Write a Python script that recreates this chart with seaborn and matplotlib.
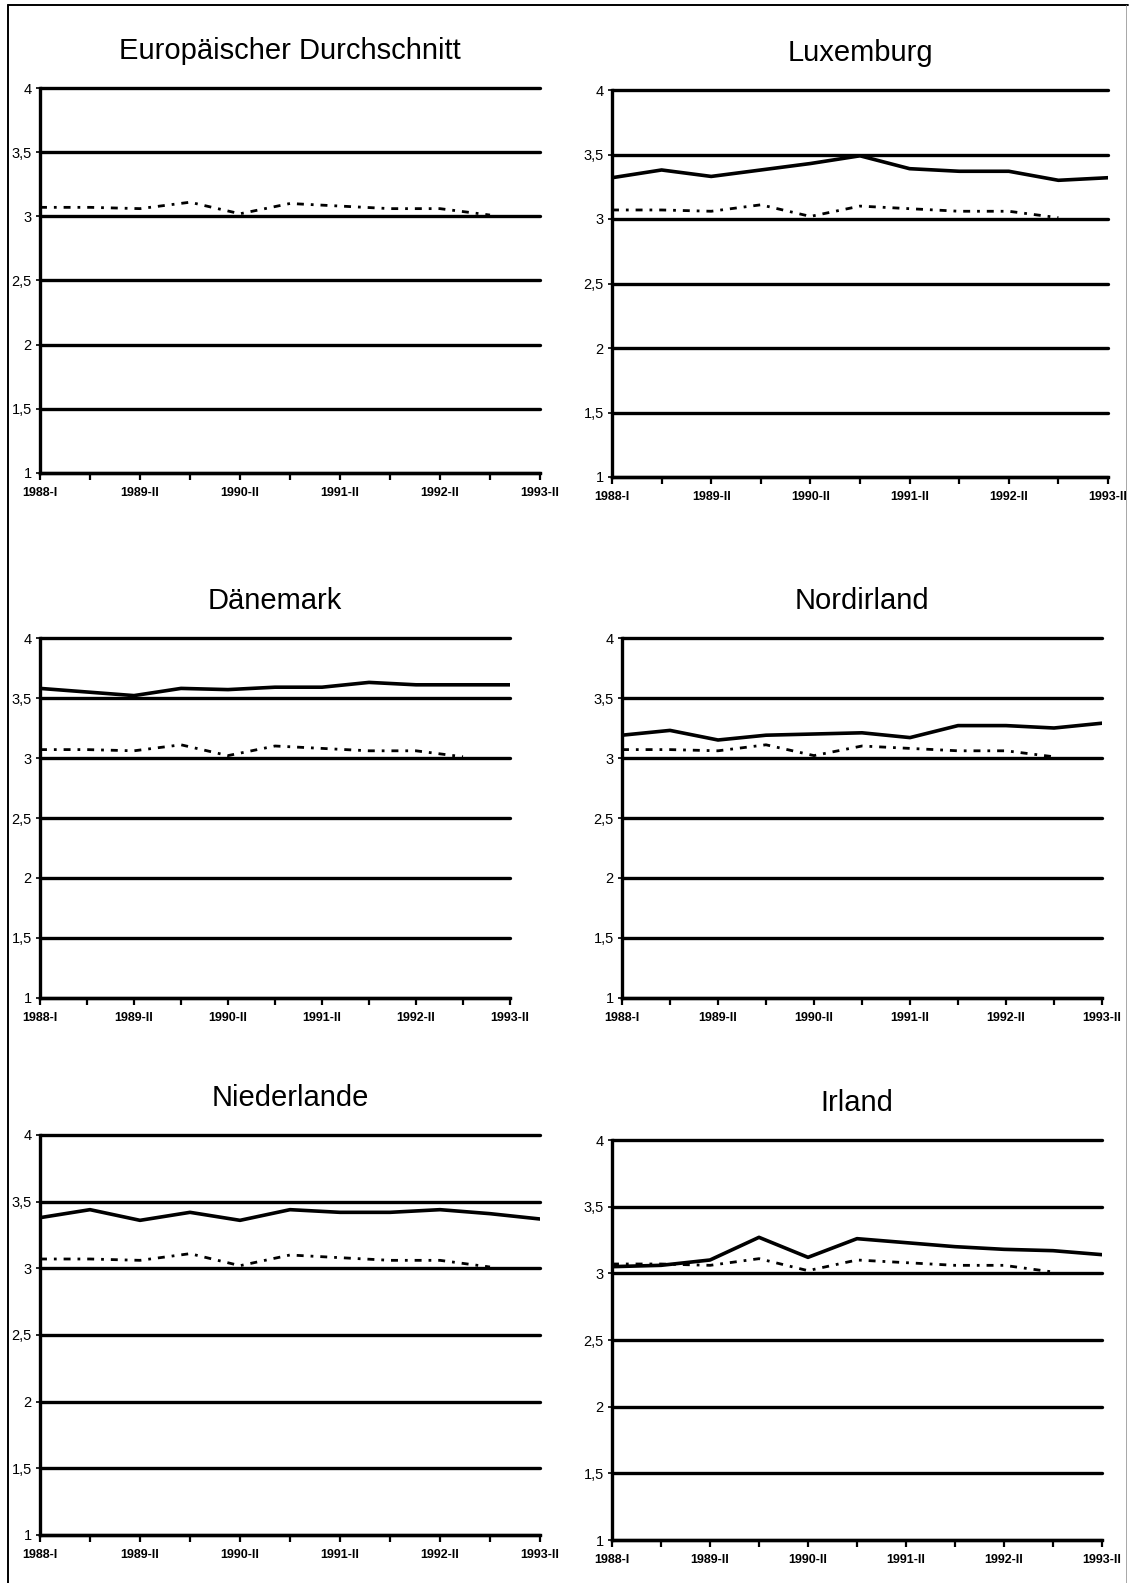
import numpy as np
import pandas as pd
import matplotlib
import matplotlib.pyplot as plt
import seaborn as sns
from matplotlib.lines import Line2D

matplotlib.use("Agg")

# Erhebungswellen (nur jede zweite beschriftet)
PERIODS = ["1988-I", "1988-II", "1989-II", "1990-I", "1990-II", "1991-I",
           "1991-II", "1992-I", "1992-II", "1993-I", "1993-II"]

# europäischer Durchschnitt (gepunktete Linie in allen Feldern)
EU_AVG = [3.07, 3.07, 3.06, 3.11, 3.02, 3.10, 3.08, 3.06, 3.06, 3.01, np.nan]

LUXEMBURG = [3.32, 3.38, 3.33, 3.38, 3.43, 3.49, 3.39, 3.37, 3.37, 3.30, 3.32]
DAENEMARK = [3.58, 3.55, 3.52, 3.58, 3.57, 3.59, 3.59, 3.63, 3.61, 3.61, 3.61]
NORDIRLAND = [3.19, 3.23, 3.15, 3.19, 3.20, 3.21, 3.17, 3.27, 3.27, 3.25, 3.29]
NIEDERLANDE = [3.38, 3.44, 3.36, 3.42, 3.36, 3.44, 3.42, 3.42, 3.44, 3.41, 3.37]
IRLAND = [3.05, 3.06, 3.10, 3.27, 3.12, 3.26, 3.23, 3.20, 3.18, 3.17, 3.14]

TITLES = ["Europäischer Durchschnitt", "Luxemburg", "Dänemark",
          "Nordirland", "Niederlande", "Irland"]
SERIES = [None, LUXEMBURG, DAENEMARK, NORDIRLAND, NIEDERLANDE, IRLAND]

Y_TICKS = [1, 1.5, 2, 2.5, 3, 3.5, 4]

W, H = 1136, 1583
# Achsenrahmen in Pixeln: x0, x1, y_oben, y_unten
BOXES = [
    (40, 540, 88, 473),
    (612, 1108, 90, 477),
    (40, 510, 638, 998),
    (622, 1102, 638, 998),
    (40, 540, 1135, 1535),
    (612, 1102, 1140, 1540),
]

sns.set_style("white")
plt.rcParams["font.family"] = ["Liberation Sans", "DejaVu Sans"]
plt.rcParams["text.color"] = "black"

fig = plt.figure(figsize=(W / 100, H / 100), dpi=100)

x = np.arange(len(PERIODS))
xlabels = [p if i % 2 == 0 else "" for i, p in enumerate(PERIODS)]
ylabels = [f"{v:g}".replace(".", ",") for v in Y_TICKS]

for title, values, (x0, x1, yt, yb) in zip(TITLES, SERIES, BOXES):
    ax = fig.add_axes([x0 / W, 1 - yb / H, (x1 - x0) / W, (yb - yt) / H])
    df = pd.DataFrame({"period": x, "eu": EU_AVG})
    sns.lineplot(data=df, x="period", y="eu", ax=ax, color="black",
                 linewidth=2.0, linestyle=(0, (2.5, 2.5, 1, 2.5)))
    if values is not None:
        df["land"] = values
        sns.lineplot(data=df, x="period", y="land", ax=ax, color="black",
                     linewidth=2.6)

    ax.set_xlim(0, len(PERIODS) - 1)
    ax.set_ylim(1, 4)
    ax.set_yticks(Y_TICKS)
    ax.set_yticklabels(ylabels)
    ax.set_xticks(x)
    ax.set_xticklabels(xlabels)
    ax.set_xlabel("")
    ax.set_ylabel("")
    ax.yaxis.grid(True, color="black", linewidth=2.4)
    ax.xaxis.grid(False)
    for gl in ax.get_ygridlines():
        gl.set_clip_on(False)

    for side in ("top", "right"):
        ax.spines[side].set_visible(False)
    for side in ("left", "bottom"):
        ax.spines[side].set_linewidth(2.4)
        ax.spines[side].set_color("black")

    ax.tick_params(axis="x", bottom=True, direction="out", length=5,
                   width=1.6, labelsize=9, pad=5, colors="black")
    ax.tick_params(axis="y", left=True, direction="out", length=3,
                   width=1.2, labelsize=10.5, pad=3, colors="black")
    for lab in ax.get_xticklabels():
        lab.set_fontweight("bold")

    ax.set_title(title, fontsize=21, pad=21, color="black")

# Rahmen um die ganze Seite
fig.add_artist(Line2D([8 / W, 1128 / W], [1 - 5 / H, 1 - 5 / H],
                      transform=fig.transFigure, color="black", lw=1.4))
fig.add_artist(Line2D([8 / W, 8 / W], [0, 1 - 5 / H],
                      transform=fig.transFigure, color="black", lw=1.4))
fig.add_artist(Line2D([1126 / W, 1126 / W], [0, 1 - 5 / H],
                      transform=fig.transFigure, color="#999999", lw=0.6))

fig.savefig("out.png", dpi=100)
